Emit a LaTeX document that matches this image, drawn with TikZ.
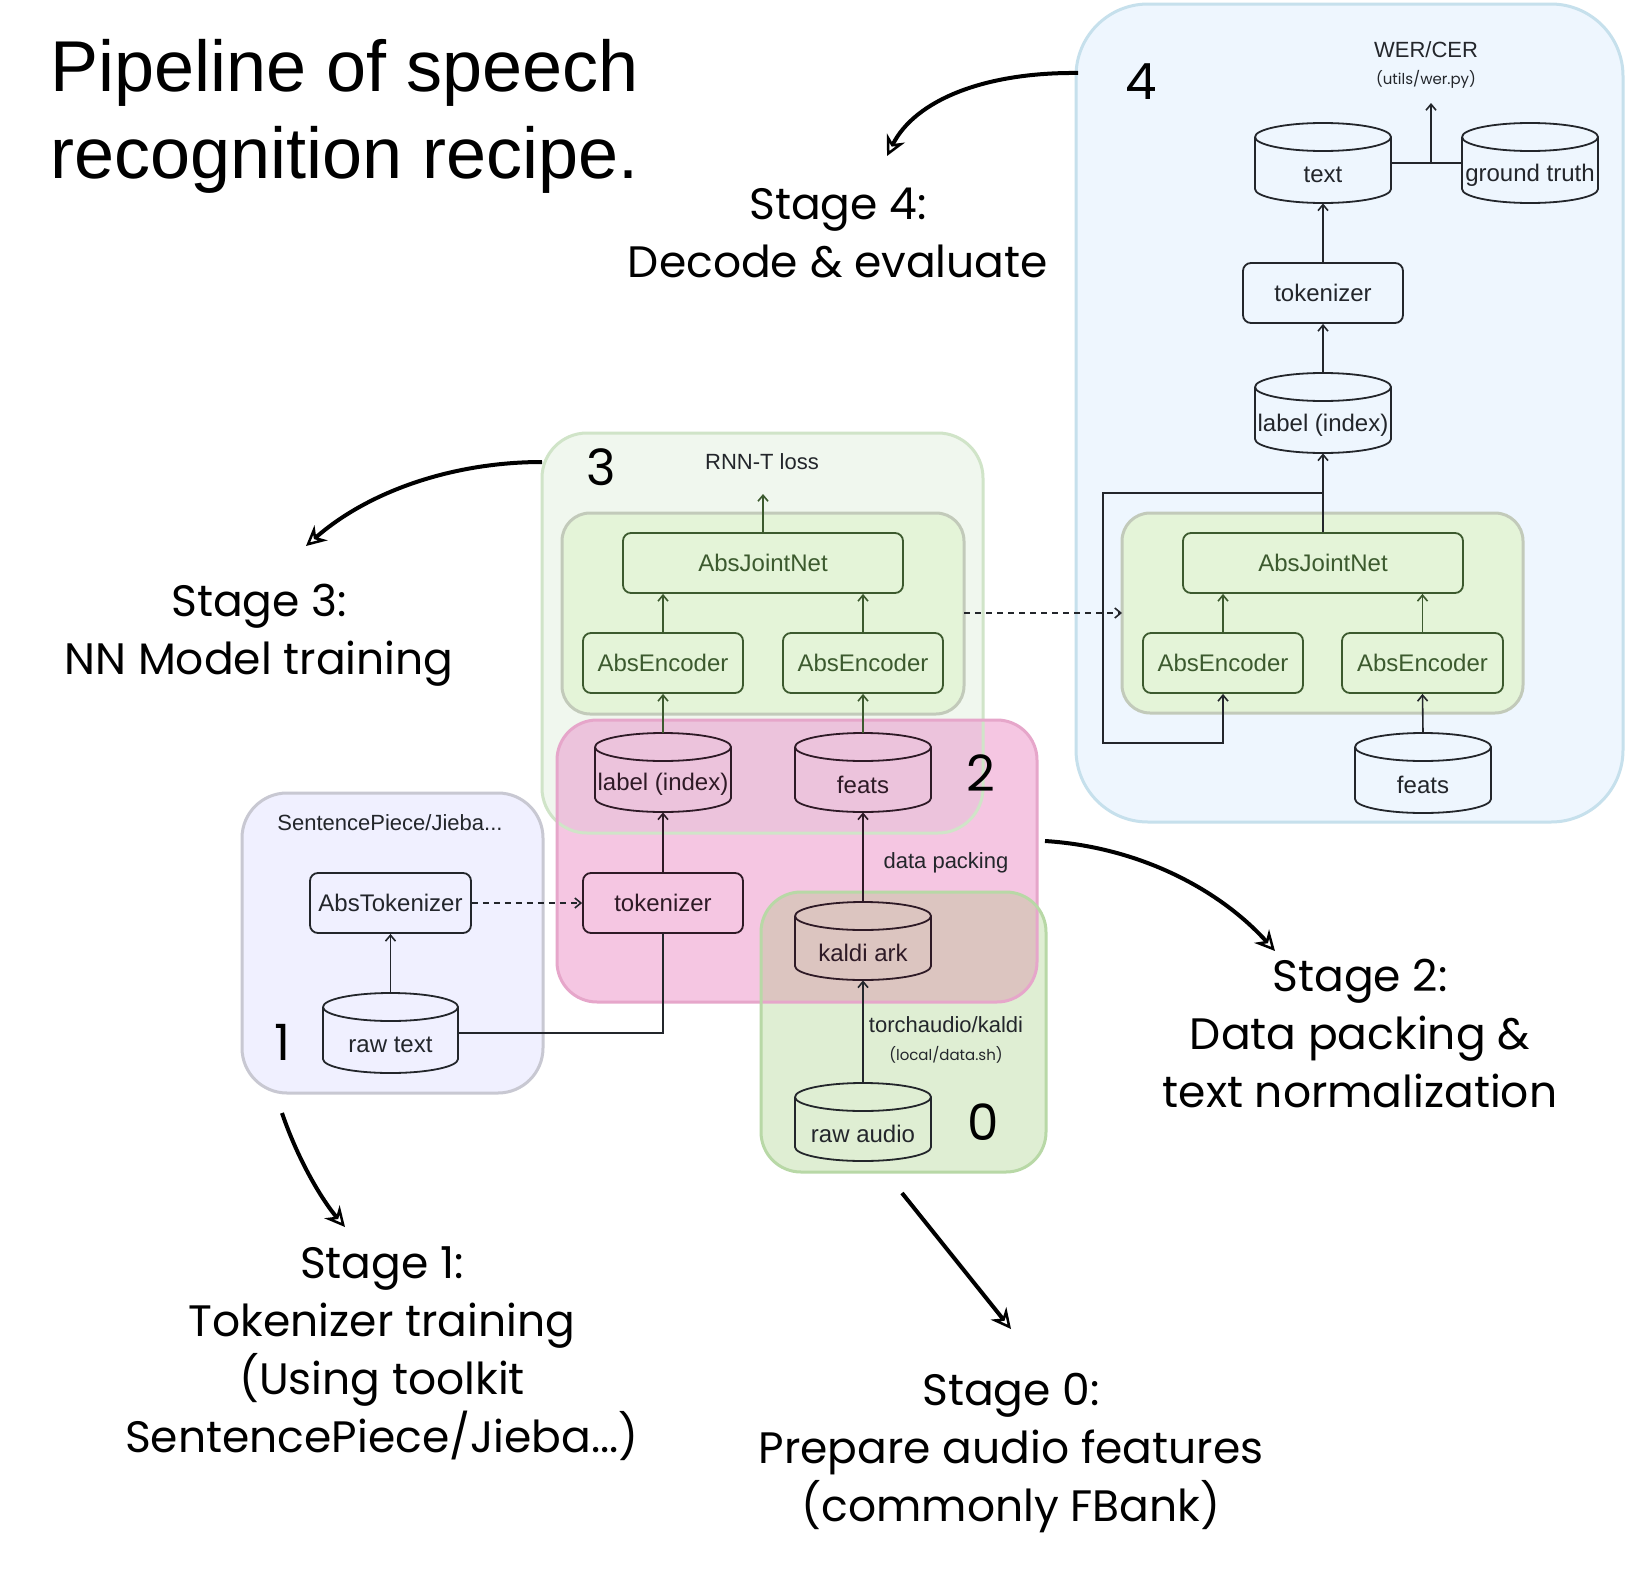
\documentclass[tikz,border=0pt]{standalone}
\usepackage{fontspec}
\setmainfont{Liberation Sans}
\newfontfamily\hand{Poppins}
\usetikzlibrary{arrows.meta,calc}

\definecolor{gfour}{HTML}{EEF6FE}
\definecolor{gfourd}{HTML}{C6E0EC}
\definecolor{gthree}{HTML}{F0F7EE}
\definecolor{gthreed}{HTML}{D0E4C8}
\definecolor{gtwo}{HTML}{F5C6E2}
\definecolor{gtwod}{HTML}{E6A6CA}
\definecolor{gtt}{HTML}{ECC3DC}
\definecolor{gzero}{HTML}{DFEED3}
\definecolor{gzerod}{HTML}{B8D8A6}
\definecolor{gzt}{HTML}{DCC5C0}
\definecolor{gone}{HTML}{F0F0FF}
\definecolor{goned}{HTML}{C8C8D2}
\definecolor{ginner}{HTML}{E4F4D8}
\definecolor{ginnerd}{HTML}{C2CABA}
\definecolor{dgreen}{HTML}{3C5A2E}
\definecolor{ink}{HTML}{23262B}
\definecolor{pinkink}{HTML}{2E1A26}

\newcommand\fsz[2]{\fontsize{#1}{#2}\selectfont}

\tikzset{
  grp/.style={line width=3pt},
  nbox/.style={draw=#1, text=#1, line width=1.8pt, rounded corners=8pt,
    minimum width=160, minimum height=60, inner sep=0pt, font=\fsz{24}{28}},
  dbn/.style={inner sep=0pt, font=\fsz{24}{28}},
  conn/.style={draw=#1, line width=1.6pt, -{Straight Barb[length=6pt,width=10pt]}},
  plain/.style={draw=#1, line width=1.6pt},
  dconn/.style={draw=ink, line width=1.6pt, dash pattern=on 6pt off 5pt, -{Straight Barb[length=6pt,width=10pt]}},
  stagearrow/.style={line width=4pt, -{Stealth[open,length=20pt,width=20pt,line width=2.5pt]}},
  stagetxt/.style={font=\hand\fsz{44}{58}, align=center},
  digit/.style={font=\hand\fsz{50}{56}},
  small/.style={font=\fsz{22}{26}, text=ink},
  tiny/.style={font=\hand\fsz{15}{18}, text=ink}
}

% cylinder: #1 name, #2 cx, #3 top, #4 w, #5 h, #6 colour, #7 text
\newcommand\dbcyl[7]{%
  \node[dbn, text=#6, minimum width=#4, minimum height=#5, anchor=north] (#1) at (#2,#3)
    {\raisebox{-12pt}[\height][\depth]{#7}};
  \draw[draw=#6, line width=1.8pt]
    (#2-#4/2, #3+14) -- (#2-#4/2, #3+#5-14)
    arc[start angle=180, end angle=360, x radius={0.5*#4 pt}, y radius=14pt]
    -- (#2+#4/2, #3+14)
    arc[start angle=0, end angle=180, x radius={0.5*#4 pt}, y radius=14pt]
    (#2-#4/2, #3+14)
    arc[start angle=180, end angle=360, x radius={0.5*#4 pt}, y radius=14pt];
}

\begin{document}
\begin{tikzpicture}[x=1pt, y=-1pt]
\useasboundingbox[fill=white] (0,0) rectangle (1626,1574);

% ---------- group fills ----------
\fill[gfour, rounded corners=72pt] (1076,4) rectangle (1623,822);
\fill[gone, rounded corners=45pt] (242,793) rectangle (543,1093);
\fill[gthree, rounded corners=45pt] (542,433) rectangle (983,833);
\fill[gtwo, rounded corners=40pt] (557,720) rectangle (1037,1002);
\begin{scope}
  \clip[rounded corners=45pt] (542,433) rectangle (983,833);
  \fill[gtt, rounded corners=40pt] (557,720) rectangle (1037,1002);
\end{scope}
\fill[gzero, rounded corners=40pt] (761,892) rectangle (1046,1172);
\begin{scope}
  \clip[rounded corners=40pt] (557,720) rectangle (1037,1002);
  \fill[gzt, rounded corners=40pt] (761,892) rectangle (1046,1172);
\end{scope}
% ---------- group borders ----------
\draw[grp, gfourd, rounded corners=72pt] (1076,4) rectangle (1623,822);
\draw[grp, goned, rounded corners=45pt] (242,793) rectangle (543,1093);
\draw[grp, gthreed, rounded corners=45pt] (542,433) rectangle (983,833);
\draw[grp, gtwod, rounded corners=40pt] (557,720) rectangle (1037,1002);
\draw[grp, gzerod, rounded corners=40pt] (761,892) rectangle (1046,1172);
% inner model boxes
\draw[grp, fill=ginner, draw=ginnerd, rounded corners=28pt] (562,513) rectangle (964,714);
\draw[grp, fill=ginner, draw=ginnerd, rounded corners=28pt] (1122,513) rectangle (1523,713);
\coordinate (in3e) at (964,613);
\coordinate (in4w) at (1122,613);

% ---------- title ----------
\node[anchor=base west, font=\fsz{72}{88}] (title1) at (47,91) {Pipeline of speech};
\node[anchor=base west, font=\fsz{72}{88}] (title2) at (47,178) {recognition recipe.};

% ---------- digits ----------
\node[digit] (d3) at (601,467) {3};
\node[digit] (d2) at (981,773) {2};
\node[digit] (d4) at (1141,82) {4};
\node[digit] (d1) at (282,1042) {1};
\node[digit] (d0) at (983,1122) {0};

% ---------- stage 3 model ----------
\node[nbox=dgreen, minimum width=280] (joint3) at (763,563) {AbsJointNet};
\node[nbox=dgreen] (encL3) at (663,663) {AbsEncoder};
\node[nbox=dgreen] (encR3) at (863,663) {AbsEncoder};
\node[small] (rnnt) at (762,462) {RNN-T loss};
\coordinate (rnntend) at (763,494);
\draw[conn=dgreen] (joint3.north) -- (rnntend);
\draw[conn=dgreen] (encL3.north) -- (encL3.north |- joint3.south);
\draw[conn=dgreen] (encR3.north) -- (encR3.north |- joint3.south);

% ---------- stage 2 ----------
\dbcyl{lab3}{663}{733}{136}{79}{pinkink}{label (index)}
\dbcyl{feats3}{863}{733}{136}{79}{pinkink}{feats}
\node[nbox=pinkink] (tok2) at (663,903) {tokenizer};
\node[small] (dpack) at (946,863) {data packing};
\draw[conn=dgreen] (lab3.north) -- (encL3.south);
\draw[conn=dgreen] (feats3.north) -- (encR3.south);
\draw[conn=pinkink] (tok2.north) -- (lab3.south);

% ---------- stage 0 ----------
\dbcyl{kaldi}{863}{902}{136}{78}{pinkink}{kaldi ark}
\dbcyl{rawaudio}{863}{1083}{136}{78}{ink}{raw audio}
\node[small] (torch) at (946,1025) {torchaudio/kaldi};
\node[tiny] (localsh) at (946,1055) {(local/data.sh)};
\draw[conn=pinkink] (kaldi.north) -- (feats3.south);
\draw[conn=ink] (rawaudio.north) -- (kaldi.south);

% ---------- stage 1 ----------
\node[small] (sp) at (390,823) {SentencePiece/Jieba...};
\node[nbox=ink, minimum width=161] (abstok) at (390.5,903) {AbsTokenizer};
\dbcyl{rawtext}{390.5}{993}{135}{80}{ink}{raw text}
\draw[conn=ink] (rawtext.north) -- (abstok.south);
\draw[dconn] (abstok.east) -- (tok2.west);
\draw[plain=ink] (rawtext.east) -| (tok2.south);

% ---------- stage 4 ----------
\node[small] (wer) at (1426,50) {WER/CER};
\node[tiny] (werpy) at (1426,79) {(utils/wer.py)};
\dbcyl{text4}{1323}{123}{136}{80}{ink}{text}
\dbcyl{gt}{1530}{123}{136}{80}{ink}{ground truth}
\node[nbox=ink] (tok4) at (1323,293) {tokenizer};
\dbcyl{lab4}{1323}{373}{136}{80}{ink}{label (index)}
\node[nbox=dgreen, minimum width=280] (joint4) at (1323,563) {AbsJointNet};
\node[nbox=dgreen] (encL4) at (1223,663) {AbsEncoder};
\node[nbox=dgreen, minimum width=161] (encR4) at (1422.5,663) {AbsEncoder};
\dbcyl{feats4}{1423}{733}{136}{80}{ink}{feats}
\coordinate (junc) at (1431,163);
\coordinate (werend) at (1431,103);
\draw[plain=ink] (text4.east) -- (gt.west);
\draw[conn=ink] (junc) -- (werend);
\draw[conn=ink] (tok4.north) -- (text4.south);
\draw[conn=ink] (lab4.north) -- (tok4.south);
\draw[conn=ink] (joint4.north) -- (lab4.south);
\coordinate (loopa) at (1323,493);
\draw[conn=ink] (loopa) -- (1103,493) -- (1103,743) -- (1223,743) -- (encL4.south);
\draw[conn=dgreen] (encL4.north) -- (encL4.north |- joint4.south);
\draw[conn=dgreen] (encR4.north) -- (encR4.north |- joint4.south);
\draw[conn=ink] (feats4.north) -- (encR4.south);
\draw[dconn] (in3e) -- (in4w);

% ---------- stage labels ----------
\node[stagetxt] (s4) at (838,233) {Stage 4:\\Decode \& evaluate};
\node[stagetxt] (s3) at (259,635) {Stage 3:\\NN Model training};
\node[stagetxt] (s2) at (1360,1033) {Stage 2:\\Data packing \&\\text normalization};
\node[stagetxt] (s1) at (382,1354) {Stage 1:\\Tokenizer training\\(Using toolkit\\SentencePiece/Jieba...)};
\node[stagetxt] (s0) at (1011,1453) {Stage 0:\\Prepare audio features\\(commonly FBank)};

\coordinate (a4s) at (1078,73);  \coordinate (a4e) at (887,156);
\coordinate (a3s) at (542,462);  \coordinate (a3e) at (306,546);
\coordinate (a2s) at (1045,841); \coordinate (a2e) at (1275,951);
\coordinate (a1s) at (282,1113); \coordinate (a1e) at (345,1227);
\coordinate (a0s) at (902,1193); \coordinate (a0e) at (1011,1329);
\draw[stagearrow] (a4s) .. controls (985,72) and (915,100) .. (a4e);
\draw[stagearrow] (a3s) .. controls (455,462) and (370,490) .. (a3e);
\draw[stagearrow] (a2s) .. controls (1140,847) and (1220,890) .. (a2e);
\draw[stagearrow] (a1s) .. controls (298,1160) and (322,1200) .. (a1e);
\draw[stagearrow] (a0s) -- (a0e);
\end{tikzpicture}
\end{document}
